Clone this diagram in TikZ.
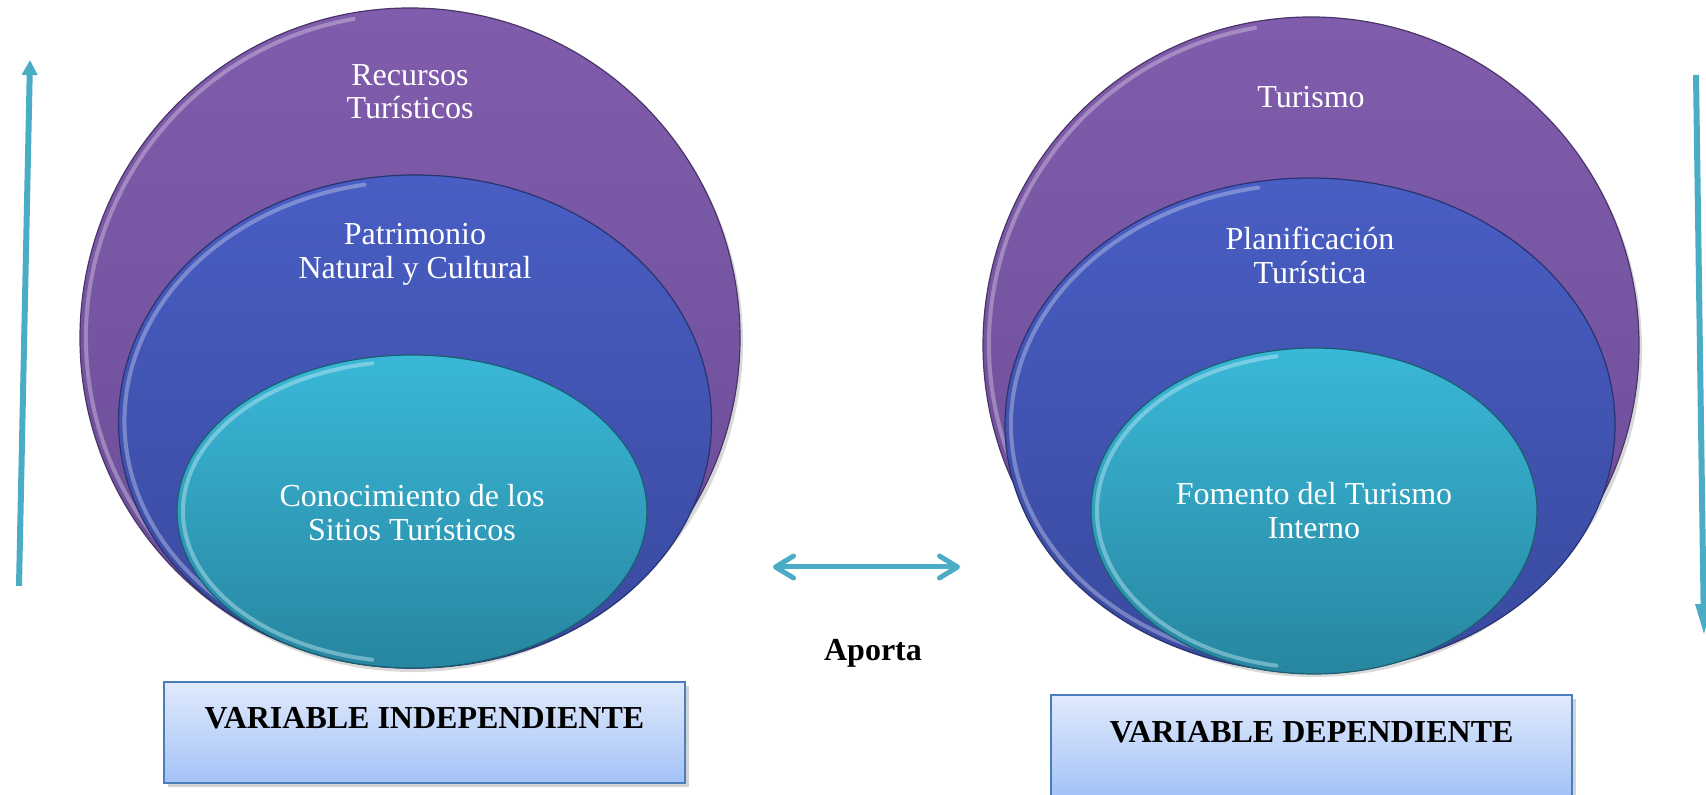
\documentclass[tikz,border=0pt]{standalone}
\usepackage{fontspec}
\setmainfont{Liberation Serif}
\usetikzlibrary{shapes.geometric, arrows.meta, positioning, shadows, calc}
\definecolor{layerpurple}{RGB}{128,93,172}
\definecolor{layerpurpledk}{RGB}{106,76,150}
\definecolor{layerblue}{RGB}{73,94,196}
\definecolor{layerbluedk}{RGB}{57,73,158}
\definecolor{layercyan}{RGB}{58,184,216}
\definecolor{layercyandk}{RGB}{39,134,160}
\definecolor{arrowteal}{RGB}{75,172,198}
\definecolor{boxtop}{RGB}{224,234,252}
\definecolor{boxbot}{RGB}{164,194,247}
\definecolor{boxline}{RGB}{74,126,187}

\begin{document}
\begin{tikzpicture}[
    x=0.5pt, y=-0.5pt,
    rim/.style={path picture={
        \draw[#1, line width=2pt, opacity=.45, line cap=round]
          let \p1=(path picture bounding box.north east), \p2=(path picture bounding box.center),
              \n1={\x1-\x2-3pt}, \n2={\y1-\y2-3pt}
          in ($(\p2)+(100:\n1 and \n2)$) arc [start angle=100, end angle=260, x radius=\n1, y radius=\n2];}},
    layer/.style={ellipse, inner sep=0pt, outer sep=0pt, line width=0.6pt},
    ringout/.style={layer, top color=layerpurple, bottom color=layerpurpledk, draw=layerpurpledk!70!black,
      rim=layerpurple!35!white, drop shadow={opacity=.3, shadow xshift=1.5pt, shadow yshift=-2pt}},
    ringmid/.style={layer, top color=layerblue, bottom color=layerbluedk, draw=layerbluedk!70!black,
      rim=layerblue!35!white},
    ringin/.style={layer, top color=layercyan, bottom color=layercyandk, draw=layercyandk!70!black,
      rim=layercyan!30!white},
    laytext/.style={text=white, font=\fontsize{16}{16.75}\selectfont, align=center, inner sep=0pt},
    varbox/.style={draw=boxline, line width=1pt, top color=boxtop, bottom color=boxbot, inner sep=0pt,
      minimum width=260.5pt, minimum height=50.5pt, drop shadow={opacity=.35, shadow xshift=2pt, shadow yshift=-2pt}},
    vartext/.style={font=\fontsize{16}{16.75}\selectfont\bfseries, inner sep=0pt},
    linklbl/.style={font=\fontsize{16}{16.75}\selectfont\bfseries, inner sep=0pt},
    sidearrow/.style={arrowteal, line width=3pt},
    linkarrow/.style={{Straight Barb[length=9pt, width=11pt, round]}-{Straight Barb[length=9pt, width=11pt, round]},
      arrowteal, line width=2.5pt, line cap=round},
  ]
  \useasboundingbox (0,0) rectangle (1706,795);

  % independent variable
  \node[ringout, minimum width=330pt, minimum height=330pt] (outL) at (410,338) {};
  \node[ringmid, minimum width=296.5pt, minimum height=246.5pt] (midL) at (415,421.5) {};
  \node[ringin, minimum width=235pt, minimum height=156.5pt] (inL) at (412,511.5) {};
  \node[laytext, below=28pt of outL.north] (recursos) {Recursos\\Turísticos};
  \node[laytext, below=24pt of midL.north] (patrimonio) {Patrimonio\\Natural y Cultural};
  \node[laytext, below=64.5pt of inL.north] (conocimiento) {Conocimiento de los\\Sitios Turísticos};
  \node[varbox] (boxL) at (424.5,732.5) {};
  \node[vartext, below=13pt of boxL.north] (indep) {VARIABLE INDEPENDIENTE};

  % dependent variable
  \node[ringout, minimum width=328pt, minimum height=328pt] (outR) at (1311,345) {};
  \node[ringmid, minimum width=305pt, minimum height=247pt] (midR) at (1310,425) {};
  \node[ringin, minimum width=223pt, minimum height=163pt] (inR) at (1314,511) {};
  \node[laytext, below=34.5pt of outR.north] (turismo) {Turismo};
  \node[laytext, below=24.5pt of midR.north] (planif) {Planificación\\Turística};
  \node[laytext, below=67pt of inR.north] (fomento) {Fomento del Turismo\\Interno};
  \node[varbox] (boxR) at (1311.5,745.5) {};
  \node[vartext, below=13.5pt of boxR.north] (dep) {VARIABLE DEPENDIENTE};

  % link between both
  \coordinate (linkL) at (773,567);
  \coordinate (linkR) at (960,567);
  \draw[linkarrow] (linkL) -- (linkR);
  \node[linklbl] (aporta) at (873,653.5) {Aporta};

  % side arrows
  \coordinate (upS) at (19,586);
  \coordinate (upE) at (30,60);
  \draw[sidearrow, -{Triangle[length=7.5pt, width=7.5pt]}] (upS) -- (upE);
  \coordinate (downS) at (1696,75);
  \coordinate (downE) at (1704,636);
  \draw[sidearrow, -{Triangle[length=16pt, width=7.5pt]}] (downS) -- (downE);
\end{tikzpicture}
\end{document}
